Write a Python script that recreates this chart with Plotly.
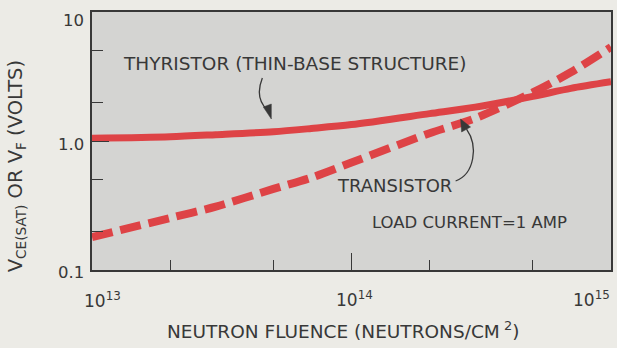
import numpy as np
import plotly.graph_objects as go

# Neutron fluence (neutrons/cm^2) and saturation / forward voltage (V)
fluence = [1e13, 2e13, 3e13, 5e13, 7e13, 1e14, 2e14, 3e14, 5e14, 7e14, 1e15]
thyristor_vf = [1.05, 1.08, 1.12, 1.18, 1.25, 1.34, 1.63, 1.83, 2.22, 2.56, 2.88]
transistor_vce = [0.18, 0.253, 0.31, 0.425, 0.52, 0.68, 1.15, 1.5, 2.38, 3.41, 5.35]

x_major = [1e13, 1e14, 1e15]
x_minor = [2e13, 5e13, 2e14, 5e14]
y_major = [0.1, 1, 10]
y_minor = [0.2, 0.5, 2, 5]
y_ticktext = ["0.1", "1.0", "10"]
x_ticktext = ["10<sup>13</sup>", "10<sup>14</sup>", "10<sup>15</sup>"]

RED = "#de4346"
INK = "#383838"
FONT = "DejaVu Sans"

W, H = 617, 348
L, R, T, B = 92, 4, 12, 78
PW, PH = W - L - R, H - T - B


def px(xpix):
    return (xpix - L) / PW


def py(ypix):
    return (H - B - ypix) / PH


def p(xpix, ypix):
    """Page pixel position -> paper coordinates string."""
    return f"{px(xpix):.4f},{py(ypix):.4f}"


def label(text, x, y, size, xanchor="center", yanchor="middle", **kw):
    return dict(text=text, xref="paper", yref="paper", x=px(x), y=py(y),
                xanchor=xanchor, yanchor=yanchor, showarrow=False,
                font=dict(size=size, color=INK, family=FONT), **kw)


fig = go.Figure()

fig.add_trace(go.Scatter(
    x=fluence, y=thyristor_vf, mode="lines", line_shape="spline",
    line=dict(color=RED, width=7, smoothing=0.8), showlegend=False,
    hoverinfo="skip"))
fig.add_trace(go.Scatter(
    x=fluence, y=transistor_vce, mode="lines", line_shape="spline",
    line=dict(color=RED, width=8, dash="21px,8px", smoothing=0.8),
    showlegend=False, hoverinfo="skip"))

# curved leader lines with filled arrowheads
shapes = [
    dict(type="path", xref="paper", yref="paper",
         path=f"M {p(263, 78)} Q {p(255, 98)} {p(268, 110)}",
         line=dict(color=INK, width=1.3)),
    dict(type="path", xref="paper", yref="paper",
         path=f"M {p(272, 119)} L {p(264, 107)} L {p(272, 104)} Z",
         fillcolor=INK, line=dict(color=INK, width=0.5)),
    dict(type="path", xref="paper", yref="paper",
         path=f"M {p(457, 181)} C {p(476, 174)} {p(480, 146)} {p(468, 129)}",
         line=dict(color=INK, width=1.3)),
    dict(type="path", xref="paper", yref="paper",
         path=f"M {p(462, 119)} L {p(463, 132)} L {p(472, 127)} Z",
         fillcolor=INK, line=dict(color=INK, width=0.5)),
]

annotations = [
    label("THYRISTOR (THIN-BASE STRUCTURE)", 296, 63, 18.5),
    label("TRANSISTOR", 396, 185, 18),
    label("LOAD CURRENT=1 AMP", 471, 222, 16.5),
    label("NEUTRON FLUENCE (NEUTRONS/CM<sup> 2</sup>)", 344, 330, 18.5),
    label("V<sub>CE(SAT)</sub> OR V<sub>F</sub> (VOLTS)", 16, 166, 19.5,
          textangle=-90),
]

# decade labels under the fluence axis
annotations.append(label(x_ticktext[0], 82, 300, 17, xanchor="left"))
annotations.append(label(x_ticktext[1], 356, 299, 17))
annotations.append(label(x_ticktext[2], 614, 299, 17, xanchor="right"))

# voltage labels on the left
y_label_px = [272, 144, 20]
for txt, yy in zip(y_ticktext, y_label_px):
    annotations.append(label(txt, 86, yy, 16.5, xanchor="right"))

fig.update_layout(
    width=W, height=H,
    margin=dict(l=L, r=R, t=T, b=B),
    paper_bgcolor="#ecebe6",
    plot_bgcolor="#d4d4d2",
    shapes=shapes,
    annotations=annotations,
    xaxis=dict(
        type="log", range=[13, 15], showgrid=False, zeroline=False,
        showline=True, mirror=True, linecolor=INK, linewidth=1.5,
        tickvals=x_major, ticks="inside", ticklen=17, tickwidth=1.3,
        tickcolor=INK, showticklabels=False,
        minor=dict(tickvals=x_minor, ticks="inside", ticklen=10,
                   tickwidth=1.3, tickcolor=INK, showgrid=False)),
    yaxis=dict(
        type="log", range=[-1, 1], showgrid=False, zeroline=False,
        showline=True, mirror=True, linecolor=INK, linewidth=1.5,
        tickvals=y_major, ticks="inside", ticklen=17, tickwidth=1.3,
        tickcolor=INK, showticklabels=False,
        minor=dict(tickvals=y_minor, ticks="inside", ticklen=11,
                   tickwidth=1.3, tickcolor=INK, showgrid=False)),
)

fig.write_html("out.html")
